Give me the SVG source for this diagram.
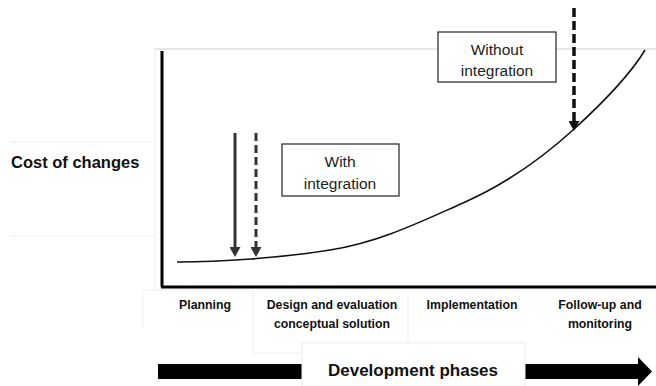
<svg xmlns="http://www.w3.org/2000/svg" width="656" height="386" viewBox="0 0 656 386">
<style>
.faint{stroke:#efefef;stroke-width:1;fill:none}
.lbl{font-family:"Liberation Sans",Arial,sans-serif;font-weight:bold;font-size:12.3px;fill:#111;text-anchor:middle}
.box{fill:#fff;stroke:#222;stroke-width:1.2}
.boxt{font-family:"Liberation Sans",Arial,sans-serif;font-size:15.5px;fill:#222;text-anchor:middle}
</style>
<defs>
<marker id="headG" markerUnits="userSpaceOnUse" markerWidth="10" markerHeight="11" refX="0" refY="5.5" orient="auto" viewBox="0 0 10 11">
<path d="M0,0 L10,5.5 L0,11 Z" fill="#333"/>
</marker>
<marker id="headK" markerUnits="userSpaceOnUse" markerWidth="10" markerHeight="11" refX="0" refY="5.5" orient="auto" viewBox="0 0 10 11">
<path d="M0,0 L10,5.5 L0,11 Z" fill="#111"/>
</marker>
</defs>
<rect width="656" height="386" fill="#fff"/>
<g id="background-lines">
<line class="faint" x1="10" y1="142" x2="155" y2="142"/>
<line class="faint" x1="10" y1="236" x2="155" y2="236"/>
<line class="faint" x1="155" y1="49" x2="155" y2="290"/>
<line x1="155" y1="49" x2="656" y2="49" stroke="#cfcfcf" stroke-width="1"/>
<path class="faint" d="M143,327 V290 H253 M253,290 V353 H408 M408,292 V352 H525 M302,386 V343 H525 V386"/>
</g>
<g id="axes">
<line x1="162" y1="51" x2="162" y2="287" stroke="#000" stroke-width="3"/>
<line x1="161" y1="287" x2="656" y2="287" stroke="#000" stroke-width="3"/>
</g>
<g id="curve">
<path d="M177,262 C220,262 280,258 330,250 S420,222 463,203 S540,160 573,130 S630,75 645,50" fill="none" stroke="#111" stroke-width="1.6"/>
</g>
<g id="y-label">
<text x="11" y="168" font-family="'Liberation Sans',Arial,sans-serif" font-weight="bold" font-size="16.5px" fill="#111">Cost of changes</text>
</g>
<g id="with-integration">
<rect class="box" x="282" y="144" width="117" height="52"/>
<text class="boxt" x="340" y="167">With</text>
<text class="boxt" x="340" y="189">integration</text>
</g>
<g id="without-integration">
<rect class="box" x="438" y="32" width="118" height="50"/>
<text class="boxt" x="497" y="55">Without</text>
<text class="boxt" x="497" y="76">integration</text>
</g>
<g id="connectors">
<line x1="235" y1="133" x2="235" y2="247" stroke="#333" stroke-width="3" marker-end="url(#headG)"/>
<line x1="256" y1="133" x2="256" y2="247" stroke="#333" stroke-width="3" stroke-dasharray="8,4" marker-end="url(#headG)"/>
<line x1="574" y1="8" x2="574" y2="121" stroke="#111" stroke-width="3.5" stroke-dasharray="9,4" marker-end="url(#headK)"/>
</g>
<g id="phase-labels">
<text class="lbl" x="205" y="309">Planning</text>
<text class="lbl" x="332" y="309">Design and evaluation</text>
<text class="lbl" x="332" y="328">conceptual solution</text>
<text class="lbl" x="472" y="309">Implementation</text>
<text class="lbl" x="600" y="309">Follow-up and</text>
<text class="lbl" x="600" y="328">monitoring</text>
</g>
<g id="development-phases">
<path d="M158,364 H638 V357 L652,371.5 L638,386 V379 H158 Z" fill="#000"/>
<rect x="302" y="343" width="223" height="43" fill="#fff" stroke="#efefef" stroke-width="1"/>
<text x="413" y="376" text-anchor="middle" font-family="'Liberation Sans',Arial,sans-serif" font-weight="bold" font-size="17px" fill="#111">Development phases</text>
</g>
</svg>
